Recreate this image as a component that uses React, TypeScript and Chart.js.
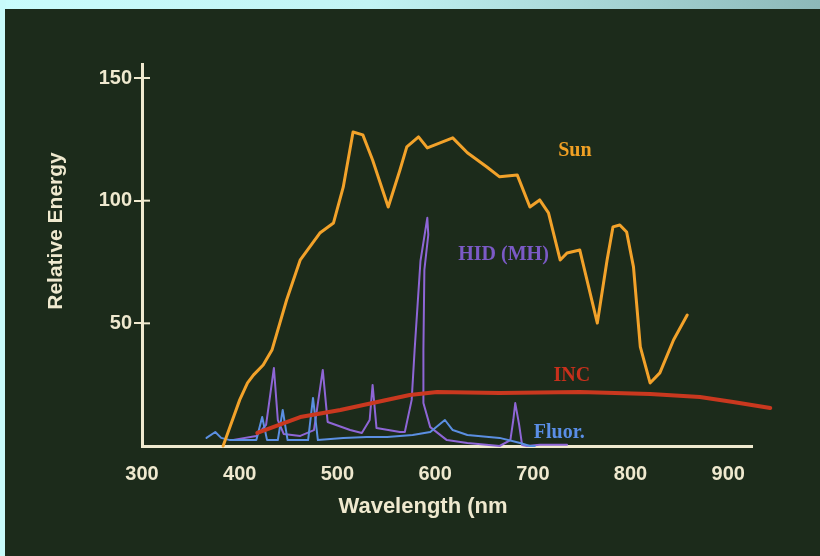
import React, { useEffect, useRef } from "react";
import { Chart, registerables } from "chart.js";

Chart.register(...registerables);

// ---- Data (wavelength in nm, relative energy) ----
const sunWavelength = [383, 390, 400, 408, 414, 424, 433, 448, 462, 482, 496, 506, 516, 526, 536, 552, 564, 571, 583, 592, 618, 633, 653, 666, 684, 697, 707, 716, 728, 735, 748, 766, 776, 782, 789, 796, 803, 810, 820, 830, 844, 858];
const sunEnergy = [0, 7.7, 18.8, 25.7, 28.9, 33.0, 39.1, 59.5, 75.9, 86.8, 90.9, 105.6, 128.0, 126.8, 116.6, 97.4, 112.5, 121.9, 126.0, 121.5, 125.6, 119.5, 113.7, 109.7, 110.5, 97.4, 100.3, 95.0, 75.8, 78.7, 79.9, 50.1, 75.8, 89.3, 90.1, 87.2, 73.0, 40.4, 25.7, 29.8, 43.2, 53.4];

const incWavelength = [418, 462, 503, 536, 574, 602, 666, 748, 820, 871, 905, 943];
const incEnergy = [5.3, 11.8, 14.7, 17.5, 20.8, 22.0, 21.6, 22.0, 21.2, 20.0, 17.9, 15.5];

const fluorWavelength = [366, 375, 381, 390, 417, 423, 428, 439, 444, 449, 470, 475, 480, 506, 530, 551, 577, 595, 610, 618, 633, 666, 687, 697, 702];
const fluorEnergy = [3.3, 5.7, 3.3, 2.4, 2.4, 11.8, 2.4, 2.4, 14.7, 2.4, 2.4, 19.6, 2.4, 3.3, 3.7, 3.7, 4.5, 5.7, 10.6, 6.5, 4.5, 3.3, 1.2, 0, 0];

const hidWavelength = [392, 417, 427, 435, 439, 445, 462, 476, 485, 490, 513, 525, 533, 536, 540, 564, 569, 576, 579, 585, 592, 593, 589, 588, 588, 595, 612, 633, 666, 677, 680, 682, 686, 689, 694, 707, 735];
const hidEnergy = [2.4, 4.1, 8.6, 31.8, 10.6, 4.9, 4.1, 6.5, 31.0, 9.8, 6.5, 5.3, 10.6, 24.9, 7.3, 5.7, 5.7, 18.8, 39.1, 75.4, 93.0, 86.1, 71.8, 39.1, 17.5, 7.7, 2.4, 1.2, 0, 2.4, 10.6, 17.5, 8.6, 0.4, 0, 0.5, 0.5];

const xTickValues = [300, 400, 500, 600, 700, 800, 900];
const yTickValues = [50, 100, 150];

const seriesNames = ["Sun", "INC", "Fluor.", "HID (MH)"];
const seriesColors = ["#f2a22a", "#c9381f", "#5b8fe2", "#8e66d6"];
const labelColors = ["#f0a024", "#c8301c", "#5a8ee6", "#7b5ac6"];
// label anchors in data units (nm, energy)
const labelAnchorNm = [743, 740, 727, 670];
const labelAnchorEnergy = [120.3, 28.5, 5.3, 77.9];

const xTitle = "Wavelength (nm";
const yTitle = "Relative Energy";

const CREAM = "#efe9cf";
const BG = "#1c2b1b";

const framePlugin = {
  id: "frame",
  beforeDraw(chart: any) {
    const { ctx, width, height } = chart;
    ctx.save();
    const g = ctx.createLinearGradient(0, 0, width, 0);
    g.addColorStop(0, "#c9fcfc");
    g.addColorStop(0.45, "#c2f4f4");
    g.addColorStop(1, "#8db9b9");
    ctx.fillStyle = g;
    ctx.fillRect(0, 0, width, height);
    ctx.fillStyle = "#c8fafa";
    ctx.fillRect(0, 0, 6, height);
    ctx.fillStyle = BG;
    ctx.fillRect(5, 9, width - 5, height - 9);
    ctx.restore();
  },
  afterDraw(chart: any) {
    const { ctx, chartArea, scales } = chart;
    const x = scales.x;
    const y = scales.y;
    ctx.save();
    // inner halves of the y tick crosses
    ctx.strokeStyle = CREAM;
    ctx.lineWidth = 2;
    yTickValues.forEach((v) => {
      const py = y.getPixelForValue(v);
      ctx.beginPath();
      ctx.moveTo(chartArea.left, py);
      ctx.lineTo(chartArea.left + 8, py);
      ctx.stroke();
    });
    // axis titles
    ctx.fillStyle = CREAM;
    ctx.textAlign = "center";
    ctx.textBaseline = "middle";
    ctx.font = "bold 22px 'Liberation Sans', Arial, sans-serif";
    ctx.fillText(xTitle, 423, 507);
    ctx.save();
    ctx.translate(56, 231);
    ctx.rotate(-Math.PI / 2);
    ctx.font = "bold 21px 'Liberation Sans', Arial, sans-serif";
    ctx.fillText(yTitle, 0, 0);
    ctx.restore();
    // series labels
    ctx.font = "bold 20px 'Liberation Serif', 'Times New Roman', serif";
    seriesNames.forEach((name, i) => {
      ctx.fillStyle = labelColors[i];
      ctx.fillText(name, x.getPixelForValue(labelAnchorNm[i]), y.getPixelForValue(labelAnchorEnergy[i]));
    });
    ctx.restore();
  },
};

export default function App() {
  const ref = useRef<HTMLCanvasElement | null>(null);
  useEffect(() => {
    if (!ref.current) return;
    const toPts = (xs: number[], ys: number[]) => xs.map((v, i) => ({ x: v, y: ys[i] }));
    const seriesData = [
      toPts(sunWavelength, sunEnergy),
      toPts(incWavelength, incEnergy),
      toPts(fluorWavelength, fluorEnergy),
      toPts(hidWavelength, hidEnergy),
    ];
    const widths = [3, 4, 2, 2];
    const chart = new Chart(ref.current, {
      type: "line",
      data: {
        datasets: seriesNames.map((name, i) => ({
          label: name,
          data: seriesData[i],
          borderColor: seriesColors[i],
          backgroundColor: seriesColors[i],
          borderWidth: widths[i],
          pointRadius: 0,
          tension: 0,
          fill: false,
          clip: false as any,
          borderJoinStyle: "round" as const,
          borderCapStyle: "round" as const,
        })),
      },
      options: {
        animation: false,
        responsive: false,
        parsing: true,
        layout: { padding: { top: 64, right: 68, left: 0, bottom: 0 } },
        plugins: { legend: { display: false }, tooltip: { enabled: false } },
        scales: {
          x: {
            type: "linear",
            min: 300,
            max: 924.3,
            afterFit: (s: any) => { s.height = 110; },
            afterBuildTicks: (s: any) => { s.ticks = xTickValues.map((v) => ({ value: v })); },
            grid: { display: false, drawTicks: false },
            border: { display: true, color: CREAM, width: 3 },
            ticks: {
              color: CREAM,
              padding: 16,
              maxRotation: 0,
              autoSkip: false,
              font: { family: "'Liberation Sans', Arial, sans-serif", size: 20, weight: "bold" },
            },
          },
          y: {
            type: "linear",
            min: 0,
            max: 155.7,
            afterFit: (s: any) => { s.width = 142; },
            afterBuildTicks: (s: any) => { s.ticks = yTickValues.map((v) => ({ value: v })); },
            grid: { display: true, drawOnChartArea: false, drawTicks: true, tickLength: 8, color: CREAM, lineWidth: 2 },
            border: { display: true, color: CREAM, width: 3 },
            ticks: {
              color: CREAM,
              padding: 2,
              autoSkip: false,
              font: { family: "'Liberation Sans', Arial, sans-serif", size: 20, weight: "bold" },
            },
          },
        },
      },
      plugins: [framePlugin],
    });
    return () => chart.destroy();
  }, []);
  return (
    <div style={{ position: "fixed", left: 0, top: 0, width: 820, height: 556 }}>
      <canvas ref={ref} width={820} height={556} style={{ display: "block", width: 820, height: 556 }} />
    </div>
  );
}
